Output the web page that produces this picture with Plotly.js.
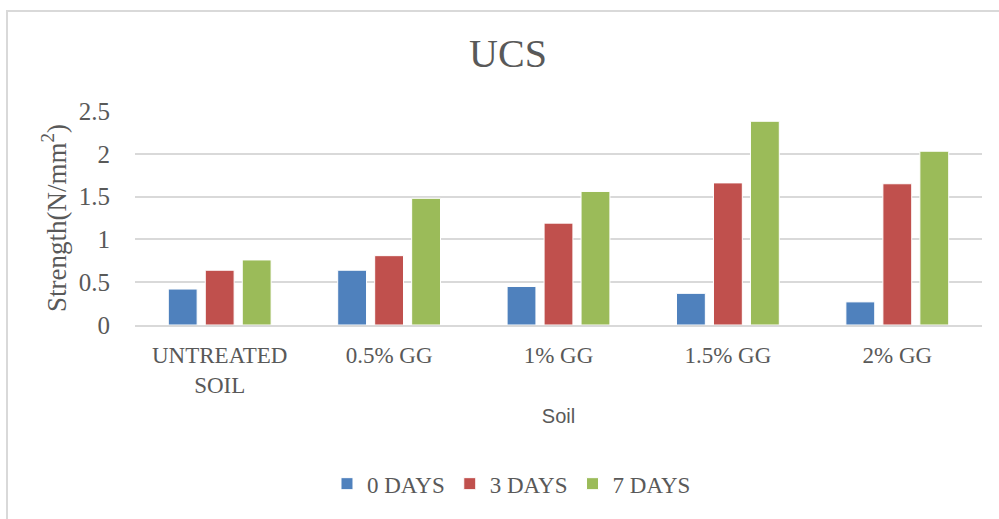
<!DOCTYPE html>
<html>
<head>
<meta charset="utf-8">
<script src="https://cdn.plot.ly/plotly-3.0.1.min.js"></script>
<style>
  html, body { margin: 0; padding: 0; background: #fff; }
  #wrap { position: relative; width: 999px; height: 519px; overflow: hidden; }
  #chart { position: absolute; left: 0; top: 0; width: 999px; height: 519px; }
  #frame { position: absolute; left: 6px; top: 10px; width: 1000px; height: 520px;
           border-top: 2px solid #d9d9d9; border-left: 2px solid #d9d9d9; pointer-events: none; }
</style>
</head>
<body>
<div id="wrap">
  <div id="chart"></div>
  <div id="frame"></div>
</div>
<script>
const categories = ["UNTREATED<br>SOIL", "0.5% GG", "1% GG", "1.5% GG", "2% GG"];
const seriesNames = ["0 DAYS", "3 DAYS", "7 DAYS"];
const days0 = [0.42, 0.64, 0.45, 0.37, 0.27];
const days3 = [0.64, 0.81, 1.19, 1.66, 1.65];
const days7 = [0.76, 1.48, 1.56, 2.38, 2.03];
const yTickVals = [0, 0.5, 1, 1.5, 2, 2.5];
const yTickText = ["0", "0.5", "1", "1.5", "2", "2.5"];

const colors = ["#4f81bd", "#c0504d", "#9bbb59"];
const values = [days0, days3, days7];

const traces = values.map((v, i) => ({
  type: "bar",
  name: seriesNames[i],
  x: categories,
  y: v,
  marker: { color: colors[i], line: { color: "#ffffff", width: 1 } },
  hoverinfo: "none"
}));

const serif = "Liberation Serif, Times New Roman, serif";
const layout = {
  width: 999,
  height: 519,
  paper_bgcolor: "#ffffff",
  plot_bgcolor: "#ffffff",
  margin: { l: 135, r: 17, t: 111, b: 194 },
  barmode: "group",
  bargap: 0.345,
  bargroupgap: 0.22,
  title: {
    text: "UCS",
    font: { family: serif, size: 40, color: "#595959" },
    x: 0.5085, xref: "container", xanchor: "center",
    y: 0.897, yref: "container", yanchor: "middle"
  },
  xaxis: {
    type: "category",
    showgrid: false,
    showline: true,
    linecolor: "#d9d9d9",
    linewidth: 2,
    ticks: "",
    ticklabelstandoff: 8,
    tickfont: { family: serif, size: 23, color: "#595959" },
    title: {
      text: "Soil",
      font: { family: "Liberation Sans, Arial, sans-serif", size: 20, color: "#595959" },
      standoff: 12
    }
  },
  yaxis: {
    range: [0, 2.5],
    tickvals: yTickVals,
    ticktext: yTickText,
    showgrid: true,
    gridcolor: "#d9d9d9",
    gridwidth: 2,
    zeroline: false,
    showline: false,
    ticks: "",
    ticklabelstandoff: 24,
    tickfont: { family: serif, size: 25, color: "#595959" },
    title: {
      text: "Strength(N/mm<sup>2</sup>)",
      font: { family: serif, size: 27, color: "#595959" },
      standoff: 4
    }
  },
  legend: {
    orientation: "h",
    xref: "container",
    x: 0.512, xanchor: "center",
    yref: "container",
    y: 0.068, yanchor: "middle",
    font: { family: serif, size: 23, color: "#595959" },
    itemwidth: 30,
    traceorder: "normal"
  },
  showlegend: true
};

Plotly.newPlot("chart", traces, layout, { displayModeBar: false, staticPlot: true });
</script>
</body>
</html>
